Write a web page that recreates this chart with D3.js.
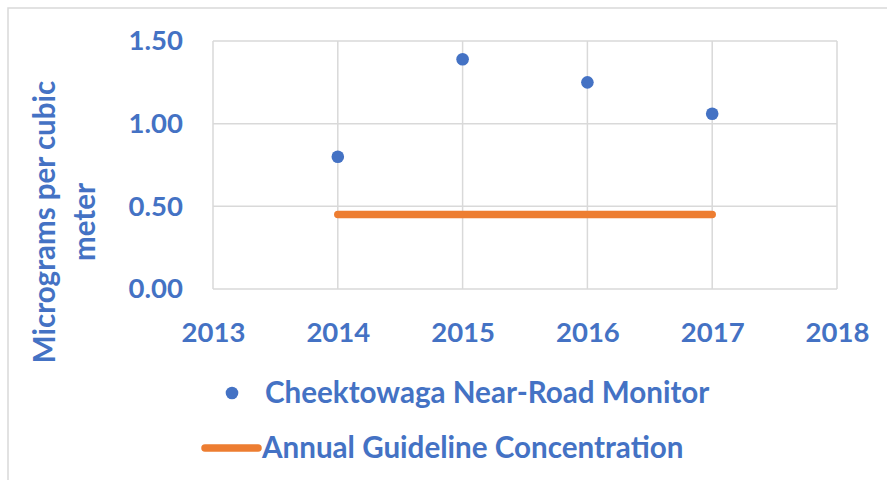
<!DOCTYPE html>
<html>
<head>
<meta charset="utf-8">
<script src="https://cdn.jsdelivr.net/npm/d3@7"></script>
<style>
  html, body { margin: 0; padding: 0; background: #fff; }
  svg { display: block; }
  text { font-family: Lato, "Open Sans", sans-serif; font-weight: 700; fill: #4472C4; }
</style>
</head>
<body>
<svg id="chart" width="887" height="480"></svg>
<script>
// ---- data ----
const years = [2014, 2015, 2016, 2017];
const monitorValues = [0.80, 1.39, 1.25, 1.06];
const guidelineValue = 0.45;
const xTicks = [2013, 2014, 2015, 2016, 2017, 2018];
const yTicks = [0, 0.5, 1.0, 1.5];
const seriesNames = ["Cheektowaga Near-Road Monitor", "Annual Guideline Concentration"];
const yTitleLines = ["Micrograms per cubic", "meter"];

const blue = "#4472C4", orange = "#ED7D31", grid = "#d9d9d9";
const svg = d3.select("#chart");

// outer frame
svg.append("rect").attr("x", 8).attr("y", 8).attr("width", 900).attr("height", 500)
  .attr("fill", "none").attr("stroke", grid).attr("stroke-width", 1.5);

const plot = { left: 213, right: 837, top: 41, bottom: 289 };
const x = d3.scaleLinear().domain([2013, 2018]).range([plot.left, plot.right]);
const y = d3.scaleLinear().domain([0, 1.5]).range([plot.bottom, plot.top]);

// gridlines
svg.append("g").selectAll("line.h").data(yTicks).join("line")
  .attr("x1", plot.left).attr("x2", plot.right)
  .attr("y1", d => y(d)).attr("y2", d => y(d))
  .attr("stroke", grid).attr("stroke-width", 1.5);
svg.append("g").selectAll("line.v").data(xTicks).join("line")
  .attr("x1", d => x(d)).attr("x2", d => x(d))
  .attr("y1", plot.top).attr("y2", plot.bottom)
  .attr("stroke", grid).attr("stroke-width", 1.5);

// y axis labels
const yAxis = d3.axisLeft(y).tickValues(yTicks).tickFormat(d3.format(".2f")).tickSize(0).tickPadding(30);
const gy = svg.append("g").attr("transform", `translate(${plot.left},0)`).call(yAxis);
gy.select(".domain").remove();
gy.selectAll("text").attr("font-size", 27.5).attr("fill", blue)
  .style("font-family", "Lato, sans-serif").style("font-weight", 700);

// x axis labels
const xAxis = d3.axisBottom(x).tickValues(xTicks).tickFormat(d3.format("d")).tickSize(0).tickPadding(0);
const gx = svg.append("g").attr("transform", `translate(0,${plot.bottom})`).call(xAxis);
gx.select(".domain").remove();
gx.selectAll("text").attr("font-size", 27.5).attr("fill", blue).attr("dy", null).attr("y", 53)
  .style("font-family", "Lato, sans-serif").style("font-weight", 700);

// guideline
const lineGen = d3.line().x(d => x(d)).y(() => y(guidelineValue));
svg.append("path").datum([years[0], years[years.length - 1]]).attr("d", lineGen)
  .attr("fill", "none").attr("stroke", orange).attr("stroke-width", 7.5).attr("stroke-linecap", "round");

// points
svg.append("g").selectAll("circle").data(years).join("circle")
  .attr("cx", d => x(d)).attr("cy", (d, i) => y(monitorValues[i])).attr("r", 6.3).attr("fill", blue);

// y title
const yt = svg.append("text").attr("transform", "translate(0,222) rotate(-90)")
  .attr("text-anchor", "middle").attr("font-size", 29.5);
yt.selectAll("tspan").data(yTitleLines).join("tspan")
  .attr("x", 0).attr("y", (d, i) => 55 + i * 40).text(d => d);

// legend
const lg = svg.append("g");
lg.append("circle").attr("cx", 232).attr("cy", 393).attr("r", 6.3).attr("fill", blue);
lg.append("text").attr("x", 265).attr("y", 393).attr("dy", "0.35em").attr("font-size", 29.6).text(seriesNames[0]);
lg.append("line").attr("x1", 205).attr("x2", 258).attr("y1", 448).attr("y2", 448)
  .attr("stroke", orange).attr("stroke-width", 7.5).attr("stroke-linecap", "round");
lg.append("text").attr("x", 262).attr("y", 448).attr("dy", "0.35em").attr("font-size", 29.6).text(seriesNames[1]);
</script>
</body>
</html>
